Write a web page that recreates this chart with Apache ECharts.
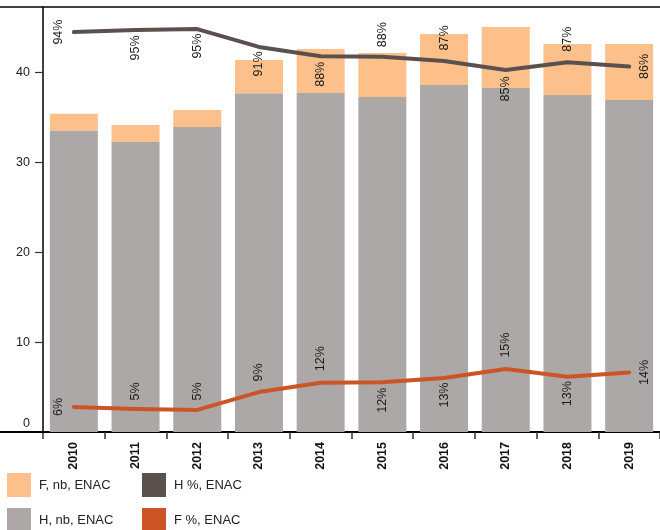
<!DOCTYPE html>
<html>
<head>
<meta charset="utf-8">
<script src="https://cdn.jsdelivr.net/npm/echarts@6/dist/echarts.min.js"></script>
<style>
html,body{margin:0;padding:0;background:#fff;}
#c{width:660px;height:530px;}
</style>
</head>
<body>
<div id="c"></div>
<script>
const years = ['2010','2011','2012','2013','2014','2015','2016','2017','2018','2019'];
const hNb = [33.56, 32.28, 33.95, 37.70, 37.74, 37.29, 38.63, 38.29, 37.52, 36.96];
const fNb = [1.87, 1.90, 1.90, 3.71, 4.90, 4.90, 5.68, 6.80, 5.67, 6.23];
const hPct = [94.1, 94.6, 94.8, 90.6, 88.4, 88.3, 87.3, 85.2, 87.0, 86.0];
const fPct = [5.9, 5.4, 5.2, 9.4, 11.6, 11.7, 12.7, 14.8, 13.0, 14.0];
const yTicks = [0, 10, 20, 30, 40];

// label placement (style, not data)
const hPos = ['left','bottom','bottom','bottom','bottom','top','top','bottom','top','right'];
const hDist = [8,5,4,4,5,9,10,6,10,8];
const fPos = ['left','top','top','top','top','bottom','bottom','top','bottom','right'];
const fDist = [8,8,9,10,11,5,4,11,4,8];

const FONT = 'Liberation Sans, Arial, sans-serif';
const COL_F = '#FDC08A', COL_H = '#ADA8A8', COL_HP = '#5A514F', COL_FP = '#CB5527';

function labelCfg(pos, d) {
  const base = {show: true, rotate: 90, distance: d, position: pos, fontSize: 12.5, fontFamily: FONT, color: '#1a1a1a',
    formatter: p => Math.round(p.value) + '%'};
  if (pos === 'top') { base.align = 'left'; base.verticalAlign = 'middle'; }
  else if (pos === 'bottom') { base.align = 'right'; base.verticalAlign = 'middle'; }
  else if (pos === 'left') { base.align = 'center'; base.verticalAlign = 'bottom'; }
  else { base.align = 'center'; base.verticalAlign = 'top'; }
  return base;
}

const legendBase = {orient: 'vertical', top: 473, height: 120, padding: 0, itemWidth: 24, itemHeight: 24, itemGap: 11, icon: 'rect',
  textStyle: {fontSize: 13, color: '#222', fontFamily: FONT, padding: [0,0,0,3]}, selectedMode: false};

const chart = echarts.init(document.getElementById('c'), null, {renderer: 'canvas'});
const option = {
  animation: false,
  textStyle: {fontFamily: FONT},
  grid: {left: 43, top: 7, width: 619, bottom: 98, containLabel: false},
  legend: [
    Object.assign({}, legendBase, {data: ['F, nb, ENAC', 'H, nb, ENAC'], left: 7}),
    Object.assign({}, legendBase, {data: ['H %, ENAC', 'F %, ENAC'], left: 142})
  ],
  xAxis: {
    type: 'category', data: years,
    axisLine: {show: true, lineStyle: {color: '#000', width: 2}},
    axisTick: {show: true, length: 7, lineStyle: {color: '#333', width: 1.5}},
    axisLabel: {rotate: 90, fontWeight: 'bold', fontSize: 12.5, color: '#111', margin: 10, fontFamily: FONT}
  },
  yAxis: [
    {type: 'value', min: 0, max: 47.31, interval: 10,
     axisLine: {show: true, lineStyle: {color: '#000', width: 1.5}},
     axisTick: {show: true, length: 8, lineStyle: {color: '#333', width: 1.2},
       customValues: yTicks.filter(v => v > 0)},
     axisLabel: {fontSize: 12.5, color: '#222', margin: 13, fontFamily: FONT,
       customValues: yTicks,
       formatter: v => v === 0 ? '{z|0}' : String(v),
       rich: {z: {fontSize: 12.5, color: '#222', fontFamily: FONT, padding: [0, 0, 16, 0]}}},
     splitLine: {show: false}},
    {type: 'value', min: 0, max: 100, show: false, splitLine: {show: false}}
  ],
  series: [
    {name: 'H, nb, ENAC', type: 'bar', stack: 'nb', data: hNb, barWidth: 48, itemStyle: {color: COL_H}},
    {name: 'F, nb, ENAC', type: 'bar', stack: 'nb', data: fNb, barWidth: 48, itemStyle: {color: COL_F}},
    {name: 'H %, ENAC', type: 'line', yAxisIndex: 1, symbol: 'circle', symbolSize: 1, showSymbol: true,
     itemStyle: {color: COL_HP}, lineStyle: {color: COL_HP, width: 4, cap: 'round', join: 'round'},
     data: hPct.map((v, i) => ({value: v, label: labelCfg(hPos[i], hDist[i])})), z: 5},
    {name: 'F %, ENAC', type: 'line', yAxisIndex: 1, symbol: 'circle', symbolSize: 1, showSymbol: true,
     itemStyle: {color: COL_FP}, lineStyle: {color: COL_FP, width: 4, cap: 'round', join: 'round'},
     data: fPct.map((v, i) => ({value: v, label: labelCfg(fPos[i], fDist[i])})), z: 5}
  ],
  graphic: [
    {type: 'line', shape: {x1: 0, y1: 7, x2: 660, y2: 7}, style: {stroke: '#000', lineWidth: 1.5}, z: 10},
    {type: 'line', shape: {x1: 0, y1: 432, x2: 44, y2: 432}, style: {stroke: '#000', lineWidth: 2}, z: 10}
  ]
};
chart.setOption(option);
</script>
</body>
</html>
